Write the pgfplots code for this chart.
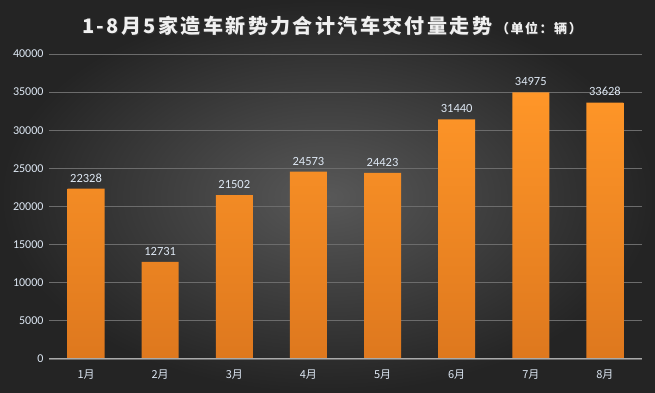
\documentclass[border=0pt]{standalone}
\usepackage{fontspec}
\setmainfont{Carlito}
\newfontfamily\cjk{Noto Sans CJK SC}
\newfontfamily\cjkt[LetterSpace=12]{Noto Sans CJK SC}
\usepackage{pgfplots}
\pgfplotsset{compat=1.18}
\definecolor{bgin}{RGB}{88,88,88}
\definecolor{bgout}{RGB}{36,36,36}
\definecolor{ticktxt}{RGB}{222,232,244}
\definecolor{gridc}{RGB}{108,108,108}
\definecolor{axc}{RGB}{170,170,170}
\definecolor{bartop}{RGB}{255,150,40}
\definecolor{barbot}{RGB}{222,120,30}
\newcommand{\ttl}{\cjkt\bfseries{\fontsize{20}{24}\selectfont 1-8月5家造车新势力合计汽车交付量走势}\hspace{4pt}{\fontsize{13}{16}\selectfont （单位：辆）}}
\begin{document}
\begin{tikzpicture}[x=1pt,y=1pt]
\shade[inner color=bgin, outer color=bgout] (0,0) rectangle (655,393);
\path[use as bounding box] (0,0) rectangle (655,393);
\node[text=black!80, anchor=west, inner sep=0pt] at (83,366) {\ttl};
\node[text=white!94!black, anchor=west, inner sep=0pt] at (82,367) {\ttl};
\begin{axis}[
  at={(49pt,34pt)}, anchor=south west, scale only axis,
  width=593pt, height=305pt,
  xmin=-0.5, xmax=7.5, ymin=0, ymax=40000,
  ytick={0,5000,...,40000},
  xtick={0,...,7},
  xticklabels={1月,2月,3月,4月,5月,6月,7月,8月},
  axis line style={draw=none},
  major tick length=0pt,
  ymajorgrids, grid style={color=gridc, line width=0.8pt},
  scaled y ticks=false,
  /pgf/number format/assume math mode=true,
  yticklabel style={font=\fontsize{12}{14}\selectfont, text=ticktxt, /pgf/number format/1000 sep={}, xshift=-2pt},
  xticklabel style={font=\cjk\fontsize{11}{13}\selectfont, text=ticktxt, yshift=-7pt},
  ybar, bar width=37pt,
  nodes near coords,
  nodes near coords style={font=\fontsize{12.5}{14}\selectfont, text=ticktxt, /pgf/number format/1000 sep={}, yshift=3pt},
  clip=false,
]
\addplot[draw=none, shade, top color=bartop, bottom color=barbot] coordinates {
 (0,22328) (1,12731) (2,21502) (3,24573) (4,24423) (5,31440) (6,34975) (7,33628)};
\draw[color=axc, line width=1pt] (axis cs:-0.5,0) -- (axis cs:7.5,0);
\end{axis}
\end{tikzpicture}
\end{document}
